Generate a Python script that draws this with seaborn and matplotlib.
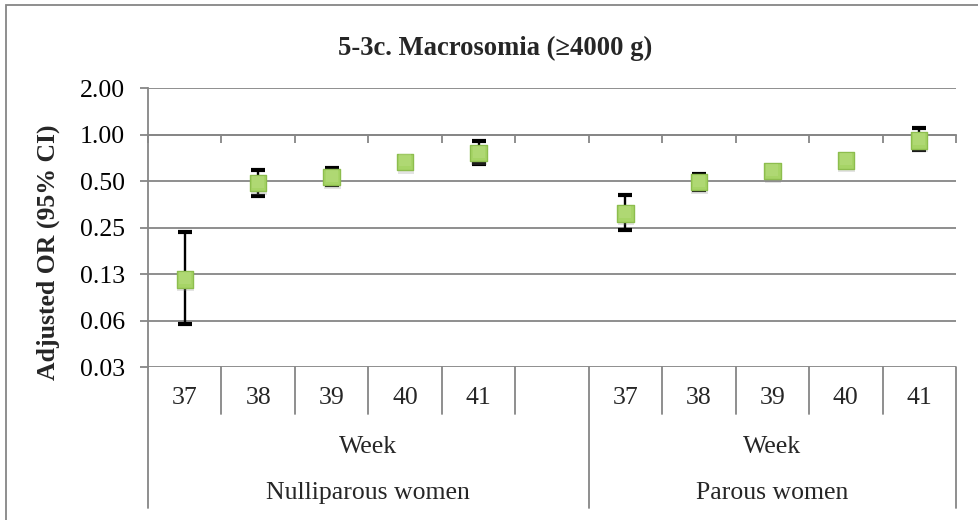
import numpy as np
import pandas as pd
import matplotlib
matplotlib.use("Agg")
import matplotlib.pyplot as plt
import matplotlib.patheffects as pe
from matplotlib.patches import Rectangle
from matplotlib.ticker import FixedLocator, NullFormatter
import seaborn as sns

# ---- data -------------------------------------------------------------
weeks = ["37", "38", "39", "40", "41"]
groups = ["Nulliparous women", "Parous women"]
group_sub = "Week"

nulli_or = [0.115, 0.484, 0.529, 0.665, 0.757]
nulli_lo = [0.059, 0.397, 0.472, 0.630, 0.646]
nulli_hi = [0.235, 0.590, 0.609, 0.700, 0.905]

parous_or = [0.309, 0.491, 0.579, 0.679, 0.915]
parous_lo = [0.242, 0.438, 0.550, 0.645, 0.788]
parous_hi = [0.407, 0.556, 0.610, 0.715, 1.099]

y_ticks = [0.03125, 0.0625, 0.125, 0.25, 0.5, 1.0, 2.0]
y_tick_labels = ["0.03", "0.06", "0.13", "0.25", "0.50", "1.00", "2.00"]

title = "5-3c. Macrosomia (\u22654000 g)"
ylabel = "Adjusted OR (95% CI)"

# ---- layout of category slots (one empty slot after each group but the last)
n_w = len(weeks)
slots_per_group = n_w + 1
rows = []
for g, (ors, los, his) in enumerate([(nulli_or, nulli_lo, nulli_hi),
                                     (parous_or, parous_lo, parous_hi)]):
    for i, w in enumerate(weeks):
        rows.append({"group": groups[g], "week": w,
                     "pos": g * slots_per_group + i,
                     "or": ors[i], "lo": los[i], "hi": his[i]})
df = pd.DataFrame(rows)
n_slots = slots_per_group * (len(groups) - 1) + n_w

sns.set_theme(style="white")
plt.rcParams["font.family"] = ["Liberation Serif", "DejaVu Serif"]

FS = 18.5
W, H = 979, 520
fig = plt.figure(figsize=(W / 100, H / 100), dpi=100)
L, R, T, B = 148, 956, 88, 367
ax = fig.add_axes([L / W, 1 - B / H, (R - L) / W, (B - T) / H])

grid_c = "#868686"
ax.set_yscale("log", base=2)
ax.set_ylim(y_ticks[0], y_ticks[-1])
ax.set_xlim(-0.5, n_slots - 0.5)
ax.set_yticks(y_ticks)
ax.set_yticklabels(y_tick_labels)
ax.yaxis.set_minor_locator(FixedLocator([]))
ax.yaxis.grid(True, color=grid_c, linewidth=1.3)
ax.set_axisbelow(True)

# x axis crosses the value axis at 1.00, with ticks on slot boundaries
ax.spines["bottom"].set_position(("data", 1.0))
ax.spines["bottom"].set_color(grid_c)
ax.spines["bottom"].set_linewidth(1.3)
ax.set_xticks(np.arange(-0.5, n_slots, 1.0))
ax.xaxis.set_major_formatter(NullFormatter())
ax.tick_params(axis="x", direction="out", length=5.5, width=1.3,
               color=grid_c, bottom=True)
ax.spines["top"].set_visible(False)
ax.spines["right"].set_visible(False)
ax.spines["left"].set_color(grid_c)
ax.spines["left"].set_linewidth(1.3)
ax.tick_params(axis="y", direction="out", length=6, width=1.3,
               color=grid_c, left=True, labelsize=FS, pad=10.5)
for lab in ax.get_yticklabels():
    lab.set_color("black")

# confidence intervals
ax.errorbar(df["pos"], df["or"],
            yerr=[df["or"] - df["lo"], df["hi"] - df["or"]],
            fmt="none", ecolor="black", elinewidth=1.7,
            capsize=5, capthick=3, zorder=3)

# point estimates
sns.scatterplot(data=df, x="pos", y="or", marker="s", s=140,
                color="#a6d466", edgecolor="#8dbd4e", linewidth=1.0,
                ax=ax, zorder=4, legend=False)
pts = ax.collections[-1]
pts.set_path_effects([pe.SimplePatchShadow(offset=(0.5, -2.5),
                                           shadow_rgbFace="#808080",
                                           alpha=0.22),
                      pe.Normal()])
# soft highlight on the upper part of the markers
sns.scatterplot(x=df["pos"], y=df["or"] * 2 ** (1.5 / 46.5), marker="s",
                s=85, color="#c2e28e", linewidth=0, alpha=0.35,
                ax=ax, zorder=5, legend=False)
ax.set_xlabel("")
ax.set_ylabel("")

# ---- multi-level category labels below the plot area -----------------
axh = B - T
def ay(px):
    return (B - px) / axh

tr = ax.get_xaxis_transform()
y_row1, y_row2 = ay(414), ay(508)
for k in range(n_slots + 1):
    x = k - 0.5
    is_group_edge = (k % slots_per_group == 0) or k == n_slots
    ax.plot([x, x], [0, y_row2 if is_group_edge else y_row1],
            color=grid_c, lw=1.3, transform=tr, clip_on=False)

for _, r in df.iterrows():
    ax.text(r["pos"], ay(398), r["week"], transform=tr, ha="center",
            va="center", fontsize=FS)
for g, name in enumerate(groups):
    start = g * slots_per_group - 0.5
    end = min(start + slots_per_group, n_slots - 0.5)
    cx = (start + end) / 2
    ax.text(cx, ay(447), group_sub, transform=tr, ha="center",
            va="center", fontsize=FS)
    ax.text(cx, ay(493), name, transform=tr, ha="center",
            va="center", fontsize=FS)

fig.text(495 / W, 1 - 48 / H, title, ha="center", va="center",
         fontsize=19.2, fontweight="bold")
fig.text(48 / W, 1 - 252 / H, ylabel, ha="center", va="center",
         rotation=90, fontsize=FS, fontweight="bold")

# chart frame
fig.patches.append(Rectangle((6 / W, -0.1), 1.2, 1 - 5 / H + 0.1,
                             transform=fig.transFigure, fill=False,
                             edgecolor=grid_c, linewidth=1.3))

fig.savefig("out.png", dpi=100, facecolor="white")
